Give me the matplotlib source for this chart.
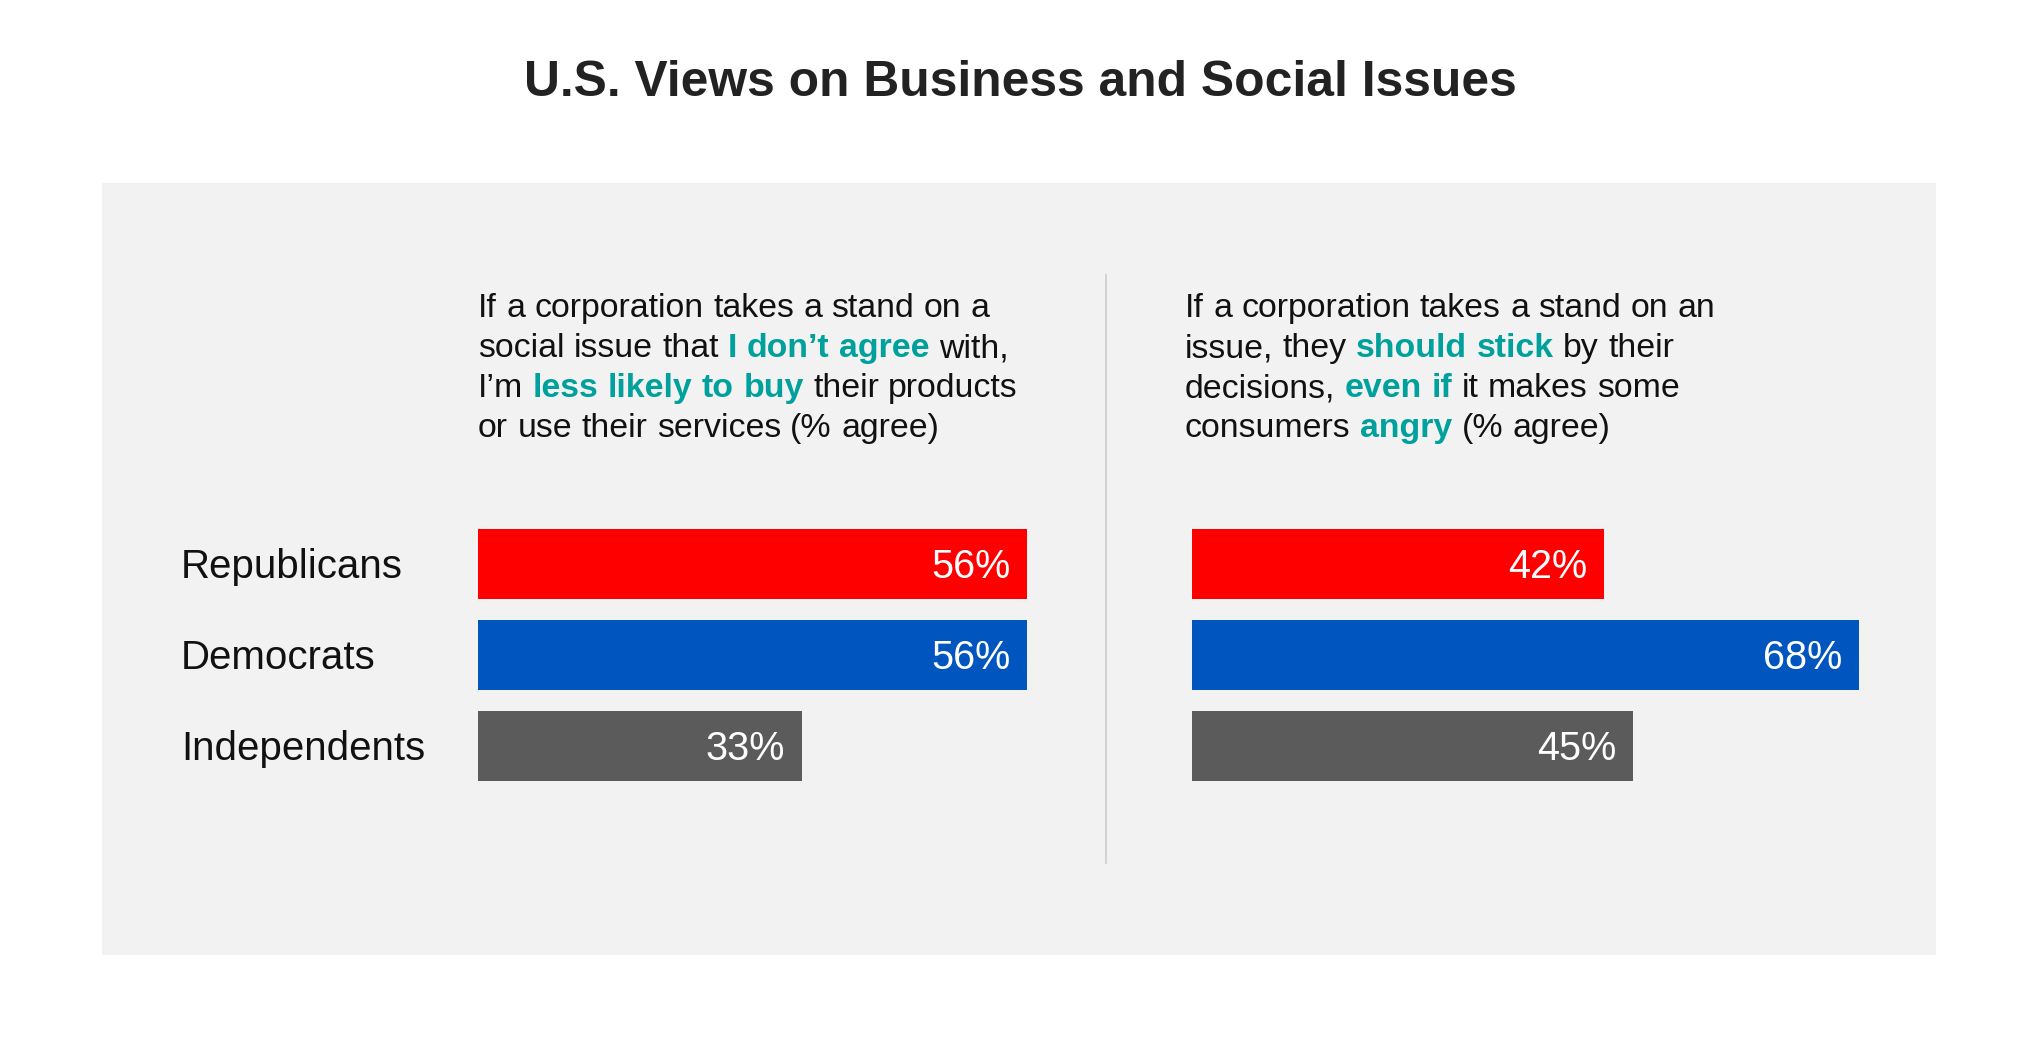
import matplotlib
matplotlib.use("Agg")
import matplotlib.pyplot as plt
from matplotlib.patches import Rectangle

W, H = 2027, 1041
FONT = "Liberation Sans"

title = "U.S. Views on Business and Social Issues"
groups = ["Republicans", "Democrats", "Independents"]
less_likely = [56, 56, 33]
stick_by = [42, 68, 45]
bar_colors = ["#FF0000", "#0055BF", "#5B5B5B"]
teal = "#00A19C"

# *...* marks the bold teal words
left_question = [
    "If a corporation takes a stand on a",
    "social issue that *I don’t agree* with,",
    "I’m *less likely to buy* their products",
    "or use their services (% agree)",
]
right_question = [
    "If a corporation takes a stand on an",
    "issue, they *should stick* by their",
    "decisions, *even if* it makes some",
    "consumers *angry* (% agree)",
]

BODY_SIZE = 24.4
LABEL_SIZE = 29

fig = plt.figure(figsize=(W / 100, H / 100), dpi=100)
fig.patch.set_facecolor("white")

# background axes in pixel coordinates (y down)
bg = fig.add_axes([0, 0, 1, 1])
bg.set_xlim(0, W)
bg.set_ylim(H, 0)
bg.axis("off")

bg.add_patch(Rectangle((102, 183), 1834, 772, facecolor="#F2F2F2", edgecolor="none"))
bg.plot([1106, 1106], [275, 863], color="#CCCCCC", lw=1.2)

bg.text(1020, 96, title, ha="center", va="baseline", fontsize=35.8,
        fontweight="bold", color="#222222", family=FONT)

renderer = fig.canvas.get_renderer()


def text_width(s, weight):
    t = bg.text(0, 0, s, fontsize=BODY_SIZE, fontweight=weight, family=FONT)
    w = t.get_window_extent(renderer).width
    t.remove()
    return w


def draw_question(x0, y0, lines, step=40):
    space = text_width("a a", "normal") - text_width("aa", "normal")
    for k, line in enumerate(lines):
        x = x0
        y = y0 + k * step
        for j, seg in enumerate(line.split("*")):
            bold = j % 2 == 1
            weight = "bold" if bold else "normal"
            color = teal if bold else "#111111"
            for i, word in enumerate(seg.split(" ")):
                if i > 0:
                    x += space
                if word:
                    bg.text(x, y, word, ha="left", va="baseline", fontsize=BODY_SIZE,
                            fontweight=weight, color=color, family=FONT)
                    x += text_width(word, weight)


draw_question(478, 317, left_question)
draw_question(1185, 317, right_question)

# bar charts
PX_PER_PCT = 9.81
top, bottom = 518.4, 792.1
ax_h = (bottom - top) / H
ax_y = 1 - bottom / H


def bar_panel(x_px, xmax, values, with_labels):
    ax = fig.add_axes([x_px / W, ax_y, xmax * PX_PER_PCT / W, ax_h])
    ax.set_facecolor("none")
    ax.barh(range(len(values)), values, height=0.767, color=bar_colors)
    ax.set_xlim(0, xmax)
    ax.set_ylim(len(values) - 0.5, -0.5)
    ax.axis("off")
    for i, v in enumerate(values):
        ax.annotate(f"{v}%", xy=(v, i), xytext=(-17, -14), textcoords="offset pixels",
                    ha="right", va="baseline", fontsize=28.5, color="white", family=FONT)
        if with_labels:
            ax.annotate(groups[i], xy=(0, i), xytext=(181 - x_px, -14),
                        textcoords="offset pixels", ha="left", va="baseline",
                        fontsize=LABEL_SIZE, color="#111111", family=FONT,
                        annotation_clip=False)
    return ax


bar_panel(478, 60, less_likely, True)
bar_panel(1192, 70, stick_by, False)

fig.savefig("out.png", dpi=100)
